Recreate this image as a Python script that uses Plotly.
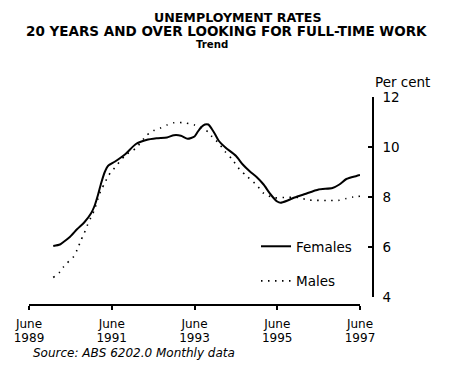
import plotly.graph_objects as go

# Trend unemployment rates, persons 20 years and over looking for full-time work (per cent)
female_dates = [
    "1990-01", "1990-03", "1990-04", "1990-06", "1990-08", "1990-10", "1990-12",
    "1991-01", "1991-02", "1991-03", "1991-04", "1991-05", "1991-07", "1991-10",
    "1992-01", "1992-04", "1992-07", "1992-10", "1992-12", "1993-02", "1993-04",
    "1993-06", "1993-07", "1993-08", "1993-09", "1993-10", "1993-11", "1993-12",
    "1994-01", "1994-03", "1994-06", "1994-08", "1994-10", "1994-12", "1995-02",
    "1995-04", "1995-06", "1995-07", "1995-09", "1995-11", "1996-02", "1996-06",
    "1996-10", "1996-12", "1997-02", "1997-05", "1997-06",
]
female_rates = [
    6.04, 6.10, 6.20, 6.42, 6.72, 6.98, 7.35,
    7.65, 8.10, 8.57, 9.00, 9.25, 9.42, 9.72,
    10.12, 10.28, 10.35, 10.38, 10.47, 10.45, 10.33,
    10.42, 10.62, 10.80, 10.90, 10.90, 10.72, 10.50,
    10.25, 9.98, 9.65, 9.30, 9.03, 8.80, 8.50,
    8.12, 7.82, 7.77, 7.86, 7.98, 8.12, 8.30,
    8.36, 8.50, 8.72, 8.84, 8.88,
]

male_dates = [
    "1990-01", "1990-03", "1990-04", "1990-05", "1990-07", "1990-08", "1990-09",
    "1990-10", "1990-11", "1990-12", "1991-01", "1991-02", "1991-03", "1991-04",
    "1991-05", "1991-06", "1991-10", "1992-01", "1992-04", "1992-06", "1992-08",
    "1992-10", "1992-12", "1993-03", "1993-06", "1993-09", "1993-10", "1993-11",
    "1994-01", "1994-03", "1994-05", "1994-07", "1994-09", "1994-12", "1995-02",
    "1995-05", "1995-08", "1995-12", "1996-03", "1996-09", "1996-12", "1997-02",
    "1997-04", "1997-06",
]
male_rates = [
    4.78, 5.00, 5.20, 5.35, 5.62, 5.90, 6.25,
    6.55, 6.90, 7.20, 7.50, 7.95, 8.30, 8.55,
    8.85, 9.02, 9.68, 9.95, 10.45, 10.65, 10.75,
    10.88, 10.97, 10.97, 10.88, 10.70, 10.59, 10.42,
    10.15, 9.80, 9.50, 9.12, 8.85, 8.48, 8.15,
    7.97, 7.98, 7.98, 7.88, 7.86, 7.87, 7.94,
    8.00, 8.03,
]

x_tick_dates = ["1989-06-01", "1991-06-01", "1993-06-01", "1995-06-01", "1997-06-01"]
x_tick_months = ["June", "June", "June", "June", "June"]
x_tick_years = ["1989", "1991", "1993", "1995", "1997"]
y_ticks = [4, 6, 8, 10, 12]

W, H = 450, 377
L, R, T, B = 29, 373, 97, 305  # paper box in pixels


def px(x, y):
    """Pixel position -> paper coordinates."""
    return (x - L) / (R - L), (B - y) / (B - T)


FONT = "DejaVu Sans"

fig = go.Figure()
fig.add_trace(go.Scatter(
    x=female_dates, y=female_rates, name="Females", mode="lines",
    line=dict(color="black", width=2, shape="spline", smoothing=0.6),
    legendgroup="f",
))
fig.add_trace(go.Scatter(
    x=male_dates, y=male_rates, name="Males", mode="lines", xaxis="x2",
    line=dict(color="black", width=1.6, dash="1.5px,5.5px", shape="spline", smoothing=0.6),
    legendgroup="m",
))

x_end = (360 - L) / (R - L)
y_start = (B - 297) / (B - T)

common_x = dict(
    type="date", range=["1989-06-01", "1997-06-01"], domain=[0, x_end],
    anchor="free", position=0, tickvals=x_tick_dates,
    showgrid=False, zeroline=False,
    tickfont=dict(family=FONT, size=12, color="black"),
)

fig.update_layout(
    width=W, height=H,
    margin=dict(l=L, r=W - R, t=T, b=H - B, pad=0),
    paper_bgcolor="white", plot_bgcolor="white",
    showlegend=True,
    legend=dict(
        x=px(256, 0)[0], y=px(0, 231)[1], xanchor="left", yanchor="top",
        font=dict(family=FONT, size=13.5, color="black"),
        bgcolor="rgba(0,0,0,0)", tracegroupgap=14,
    ),
    xaxis=dict(
        **common_x, ticktext=x_tick_months,
        ticks="outside", ticklen=4, tickwidth=1.5, tickcolor="black",
        showline=True, linewidth=1.5, linecolor="black",
        ticklabelstandoff=4,
    ),
    # second row of tick labels (years), pushed below the month row
    xaxis2=dict(
        **common_x, ticktext=x_tick_years, overlaying="x",
        ticks="outside", ticklen=22, tickcolor="rgba(0,0,0,0)",
        showline=False, ticklabelstandoff=0,
    ),
    yaxis=dict(
        range=[4, 12], domain=[y_start, 1], anchor="free", position=1, side="right",
        tickvals=y_ticks, ticks="inside", ticklen=4, tickwidth=1.5, tickcolor="black",
        showline=True, linewidth=1.5, linecolor="black",
        showgrid=False, zeroline=False, ticklabelstandoff=6,
        tickfont=dict(family=FONT, size=13.5, color="black"),
    ),
)

annotations = [
    ("UNEMPLOYMENT RATES", 237, 17, 12.6, "bold", "normal", "center"),
    ("20 YEARS AND OVER LOOKING FOR FULL-TIME WORK", 226, 31, 13.5, "bold", "normal", "center"),
    ("Trend", 212, 44, 10.2, "bold", "normal", "center"),
    ("Per cent", 373, 82, 13.5, "normal", "normal", "left"),
    ("Source: ABS 6202.0 Monthly data", 31, 353, 12, "normal", "italic", "left"),
]
for text, ax, ay, size, weight, style, align in annotations:
    xp, yp = px(ax, ay)
    fig.add_annotation(
        text=text, x=xp, y=yp, xref="paper", yref="paper",
        xanchor=align, yanchor="middle", showarrow=False,
        font=dict(family=FONT, size=size, color="black", weight=weight, style=style),
    )

fig.write_html("out.html")
